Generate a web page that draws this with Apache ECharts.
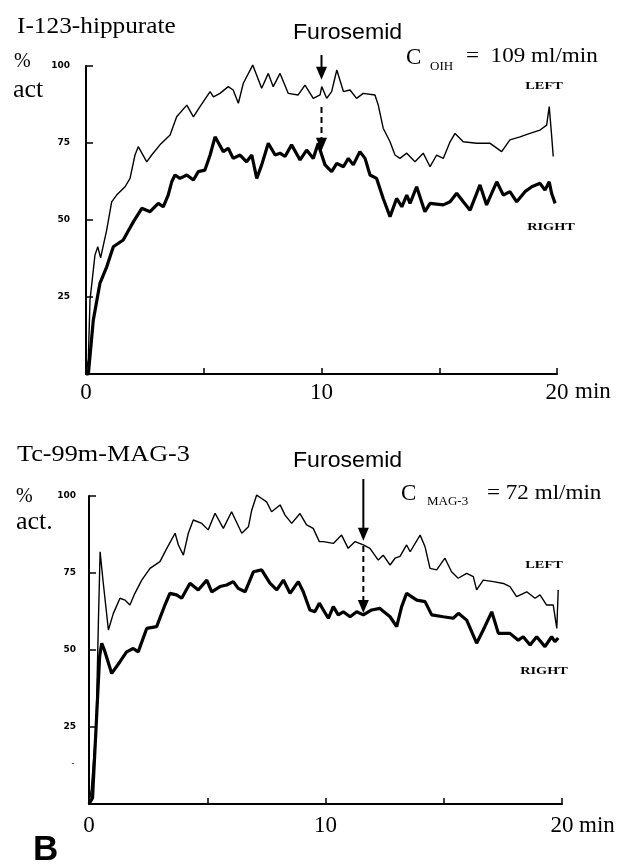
<!DOCTYPE html>
<html>
<head>
<meta charset="utf-8">
<script src="https://cdn.jsdelivr.net/npm/echarts@6/dist/echarts.min.js"></script>
<style>
  html, body { margin: 0; padding: 0; background: #fff; }
  #chart { width: 630px; height: 867px; }
</style>
</head>
<body>
<div id="chart"></div>
<script>
// time in min, activity in %
var hippurateLeft = [
  [0,0],[0.1,5],[0.17,24],[0.38,38.6],[0.5,41.3],[0.62,37.7],[0.88,46.8],[1.09,55.9],[1.3,58.1],
  [1.66,60.8],[1.87,63.5],[2.08,71.1],[2.22,73.8],[2.58,68.9],[2.79,71.1],[3.14,74.4],[3.57,77.6],
  [3.85,83.5],[4.28,87.3],[4.56,83.5],[4.84,86.8],[5.27,91.7],[5.41,90],[5.69,91.1],[6.04,93.3],
  [6.25,92.2],[6.47,87.9],[6.68,94.4],[7.08,100.3],[7.46,92.8],[7.74,97.6],[7.95,93.3],[8.24,97.6],
  [8.59,91.1],[9.01,90.6],[9.3,93.8],[9.65,89.5],[9.94,90.6],[10.01,93.3],[10.22,89.5],[10.43,91.7],
  [10.65,98.7],[10.93,91.7],[11.21,92.2],[11.49,89.5],[11.77,91.1],[12.27,90.6],[12.41,87.3],
  [12.62,79.8],[12.91,75.4],[13.12,71.1],[13.33,70],[13.62,71.7],[13.97,68.9],[14.32,71.7],
  [14.61,67.3],[14.89,71.1],[15.17,70],[15.46,75.4],[15.67,78.1],[16.02,75.4],[16.59,74.9],
  [17.16,74.9],[17.65,72.2],[18,76],[18.43,77],[18.85,78.1],[19.28,79.2],[19.56,80.8],[19.67,86.8],
  [19.77,77.6],[19.84,70.6]
];
var hippurateRight = [
  [0,0],[0.1,0],[0.31,17.5],[0.59,29.4],[0.88,34.8],[1.16,41.3],[1.58,43.5],[2.01,49.4],[2.37,53.8],
  [2.72,52.7],[3.07,55.4],[3.28,54.3],[3.49,58.1],[3.64,62.4],[3.78,64.6],[3.99,63.5],[4.28,64.6],
  [4.56,63],[4.77,65.7],[5.05,66.2],[5.27,71.1],[5.48,77],[5.83,72.2],[6.04,73.3],[6.25,70],
  [6.54,71.1],[6.82,68.9],[7.04,71.1],[7.25,63.5],[7.46,67.9],[7.74,74.9],[8.03,71.1],[8.24,71.7],
  [8.45,70.6],[8.73,74.4],[9.09,69.5],[9.37,72.7],[9.65,70],[9.86,74.9],[9.94,72.7],[10.15,67.9],
  [10.43,65.7],[10.65,68.4],[10.93,67.3],[11.14,70],[11.35,67.9],[11.63,72.2],[11.85,70],
  [12.06,64.6],[12.34,63.5],[12.62,57],[12.91,51.1],[13.19,57],[13.41,54.3],[13.62,58.1],
  [13.76,55.4],[14.04,60.8],[14.39,52.7],[14.61,55.4],[15.17,54.9],[15.46,55.9],[15.74,58.7],
  [16.02,55.9],[16.31,53.2],[16.73,61.4],[17.01,54.9],[17.44,62.4],[17.72,58.1],[18,59.2],
  [18.29,55.9],[18.64,59.2],[18.93,60.8],[19.28,61.9],[19.49,59.7],[19.67,62.4],[19.77,58.7],
  [19.92,55.4]
];
var mag3Left = [
  [0,0],[0.1,5],[0.3,25],[0.4,60],[0.47,81.9],[0.6,72],[0.82,56.5],[1.03,61.9],[1.31,66.8],
  [1.52,66.2],[1.73,64.6],[1.94,68.4],[2.23,72.7],[2.58,76.5],[3,78.7],[3.29,83],[3.64,87.9],
  [3.78,84.1],[3.99,80.8],[4.2,87.9],[4.41,92.2],[4.77,91.1],[5.04,89],[5.33,94.4],[5.68,89.5],
  [6.03,94.9],[6.46,87.9],[6.74,90],[6.88,95.4],[7.09,100.3],[7.3,99.2],[7.51,98.1],[7.72,94.9],
  [8.08,97.1],[8.29,93.8],[8.57,91.1],[8.92,94.3],[9.2,90.6],[9.48,89.5],[9.74,85.2],[9.91,85.2],
  [10.33,84.6],[10.68,87.3],[10.96,83],[11.25,85.2],[11.6,84.1],[11.88,83],[12.23,79.2],
  [12.44,80.8],[12.73,77.6],[12.94,79.8],[13.15,80.4],[13.43,84.1],[13.58,81.9],[14,87.3],
  [14.21,83.5],[14.42,76.5],[14.7,76],[15.05,79.8],[15.33,75.4],[15.61,73.3],[15.97,74.9],
  [16.25,73.8],[16.39,69.5],[16.67,72.7],[17.1,72.2],[17.52,71.6],[17.8,70.6],[18.08,67.3],
  [18.51,68.9],[18.86,66.8],[19.07,67.9],[19.35,64.6],[19.63,64.6],[19.78,57],[19.84,69.5]
];
var mag3Right = [
  [0,0],[0.15,2],[0.3,25],[0.45,48],[0.54,52.2],[0.65,50],[0.96,42.4],[1.31,46.2],[1.59,49.4],
  [1.87,50.5],[2.08,49.4],[2.44,57],[2.86,57.6],[3.21,64.6],[3.42,68.4],[3.7,67.9],[3.92,66.8],
  [4.27,71.7],[4.62,69.5],[4.98,72.7],[5.19,68.9],[5.54,70.6],[5.82,71.1],[6.1,72.2],[6.31,70],
  [6.6,68.9],[6.95,75.4],[7.3,76],[7.65,71.7],[7.94,69.5],[8.22,72.7],[8.5,68.4],[8.85,72.2],
  [9.06,68.9],[9.34,63],[9.55,62.4],[9.74,65.2],[9.91,63],[10.12,60.3],[10.33,64.1],[10.54,61.4],
  [10.75,62.4],[11.04,60.8],[11.32,62.4],[11.6,61.4],[11.95,63],[12.3,63.5],[12.73,60.8],
  [13.01,57.6],[13.22,64.1],[13.43,68.4],[13.86,66.2],[14.21,65.7],[14.49,61.4],[14.98,60.8],
  [15.4,60.3],[15.62,61.9],[15.97,59.7],[16.39,52.2],[16.67,56.5],[17.03,62.4],[17.31,55.4],
  [17.8,55.4],[18.15,53.2],[18.36,54.3],[18.65,51.6],[18.93,54.3],[19.28,51.1],[19.56,54.3],
  [19.7,52.7],[19.84,53.9]
];
var yTicks = [0, 25, 50, 75, 100];
var xLabels = [0, 10, 20];
// furosemid injection time and arrow ends (solid part, dashed part) in % act
var furosemidTop = 10;
var furosemidTopSolid = [103.6, 95.5];
var furosemidTopDashed = [86.7, 72.5];
var furosemidBottom = 11.6;
var furosemidBottomSolid = [105.5, 85.5];
var furosemidBottomDashed = [83.8, 62];

var serif = '"Liberation Serif", "DejaVu Serif", serif';
var sans = '"Liberation Sans", Arial, sans-serif';

function makeX(idx, margin) {
  return {
    type: 'value', gridIndex: idx, min: 0, max: 20, interval: 5,
    axisLine: { lineStyle: { color: '#000', width: 2 } },
    axisTick: { inside: true, length: 6, lineStyle: { color: '#000', width: 1.5 } },
    splitLine: { show: false },
    axisLabel: {
      margin: margin, color: '#000', fontFamily: serif, fontSize: 23,
      formatter: function (v) { return xLabels.indexOf(v) >= 0 ? String(v) : ''; }
    }
  };
}
function makeY(idx, margin) {
  return {
    type: 'value', gridIndex: idx, min: 0, max: 100, interval: 25,
    axisLine: { show: true, lineStyle: { color: '#000', width: 2 } },
    axisTick: { show: true, inside: true, length: 7, lineStyle: { color: '#000', width: 1.5 } },
    splitLine: { show: false },
    axisLabel: {
      margin: margin, color: '#000', fontFamily: '"DejaVu Sans", sans-serif', fontSize: 9, fontWeight: 'bold',
      formatter: function (v) { return yTicks.indexOf(v) > 0 ? String(v) : ''; }
    }
  };
}
function line(name, data, idx, width) {
  return {
    name: name, type: 'line', xAxisIndex: idx, yAxisIndex: idx, data: data,
    showSymbol: false, clip: false, smooth: false,
    lineStyle: { color: '#000', width: width }
  };
}
function txt(x, y, text, font, align, sx) {
  return {
    type: 'text', x: x, y: y, scaleX: sx || 1, silent: true,
    style: { text: text, font: font, fill: '#000', textAlign: align || 'left', textVerticalAlign: 'middle' }
  };
}

var chart = echarts.init(document.getElementById('chart'));
chart.setOption({
  animation: false,
  backgroundColor: '#fff',
  grid: [
    { left: 86, top: 66, width: 471, height: 308 },
    { left: 89, top: 496, width: 473, height: 308 }
  ],
  xAxis: [makeX(0, 7), makeX(1, 10)],
  yAxis: [makeY(0, 16), makeY(1, 13)],
  series: [
    line('LEFT', hippurateLeft, 0, 1.4),
    line('RIGHT', hippurateRight, 0, 3.2),
    line('LEFT', mag3Left, 1, 1.4),
    line('RIGHT', mag3Right, 1, 3.2)
  ]
});

// arrow with filled head, placed through the grid's own scales
function arrow(gridIndex, t, ends, dash) {
  var a = chart.convertToPixel({ gridIndex: gridIndex }, [t, ends[0]]);
  var b = chart.convertToPixel({ gridIndex: gridIndex }, [t, ends[1]]);
  var head = 13;
  var ls = { stroke: '#000', lineWidth: 2 };
  if (dash) ls.lineDash = [6, 4];
  return [
    { type: 'line', silent: true, shape: { x1: a[0], y1: a[1], x2: b[0], y2: b[1] - head + 2 }, style: ls },
    { type: 'polygon', silent: true, shape: { points: [[b[0] - 5.5, b[1] - head], [b[0] + 5.5, b[1] - head], [b[0], b[1]]] }, style: { fill: '#000' } }
  ];
}

var texts = [
  txt(17, 27, 'I-123-hippurate', '23px ' + serif, 'left', 1.1),
  txt(14, 62, '%', '20px ' + serif),
  txt(13, 90, 'act', '26px ' + serif),
  txt(293, 33, 'Furosemid', '22px ' + sans, 'left', 1.05),
  txt(406, 58, 'C', '23px ' + serif),
  txt(430, 67, 'OIH', '13px ' + serif),
  txt(466, 56, '=  109 ml/min', '22px ' + serif, 'left', 1.05),
  txt(544, 86, 'LEFT', 'bold 11px ' + serif, 'center', 1.3),
  txt(551, 227, 'RIGHT', 'bold 11px ' + serif, 'center', 1.3),
  txt(575, 392, 'min', '23px ' + serif),

  txt(17, 455, 'Tc-99m-MAG-3', '23px ' + serif, 'left', 1.14),
  txt(16, 497, '%', '20px ' + serif),
  txt(16, 522, 'act.', '26px ' + serif),
  txt(293, 461, 'Furosemid', '22px ' + sans, 'left', 1.05),
  txt(401, 494, 'C', '23px ' + serif),
  txt(427, 502, 'MAG-3', '13px ' + serif),
  txt(487, 493, '= 72 ml/min', '22px ' + serif, 'left', 1.05),
  txt(544, 565, 'LEFT', 'bold 11px ' + serif, 'center', 1.3),
  txt(544, 671, 'RIGHT', 'bold 11px ' + serif, 'center', 1.3),
  txt(73, 764, '-', 'bold 9px ' + serif, 'center'),
  txt(579, 826, 'min', '23px ' + serif),
  txt(33, 850, 'B', 'bold 35px ' + sans)
];

var marks = []
  .concat(arrow(0, furosemidTop, furosemidTopSolid, false))
  .concat(arrow(0, furosemidTop, furosemidTopDashed, true))
  .concat(arrow(1, furosemidBottom, furosemidBottomSolid, false))
  .concat(arrow(1, furosemidBottom, furosemidBottomDashed, true));

chart.setOption({ graphic: texts.concat(marks) });
</script>
</body>
</html>
